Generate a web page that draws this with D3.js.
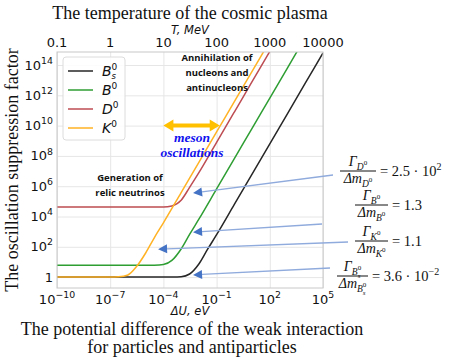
<!DOCTYPE html>
<html>
<head>
<meta charset="utf-8">
<script src="https://cdn.jsdelivr.net/npm/d3@7"></script>
<style>
body { margin: 0; background: #fff; }
svg { display: block; }
</style>
</head>
<body>
<svg id="chart" width="453" height="363"></svg>
<script>
const Width = 453;
const Height = 363;
const Plot = {left: 57, right: 323, top: 52, bottom: 288};
const Serif = "'Liberation Serif', 'Times New Roman', serif";
const Sans = "'DejaVu Sans', sans-serif";
const Note = "'Open Sans', sans-serif";

// curves: [ΔU in eV, suppression factor]
const bs0 = [[1e-10, 1], [1e-4, 1], [3e-4, 1.01], [1e-3, 1.06], [3e-3, 1.6], [1e-2, 7.3], [3e-2, 64], [1e-1, 630], [1, 6.3e4], [10, 6.3e6], [100, 6.3e8], [1e3, 6.3e10], [1e4, 6.3e12], [1e5, 6.3e14]];
const b0 = [[1e-10, 6], [1e-5, 6], [3e-5, 6.07], [1e-4, 6.7], [3e-4, 12.6], [1e-3, 72], [3e-3, 660], [1e-2, 6600], [1e-1, 6.6e5], [1, 6.6e7], [10, 6.6e9], [100, 6.6e11], [1e3, 6.6e13], [1e4, 6.6e15]];
const d0 = [[1e-10, 4.2e4], [1e-4, 4.28e4], [3e-4, 5e4], [1e-3, 1.2e5], [3e-3, 8.4e5], [1e-2, 7.9e6], [1e-1, 7.9e8], [1, 7.9e10], [10, 7.9e12], [100, 7.9e14]];
const k0 = [[1e-10, 1], [1e-7, 1.004], [3e-7, 1.04], [1e-6, 1.38], [3e-6, 4.8], [1e-5, 39], [3e-5, 380], [1e-4, 3800], [1e-3, 3.8e5], [1e-2, 3.8e7], [1e-1, 3.8e9], [1, 3.8e11], [10, 3.8e13], [100, 3.8e15]];

const seriesData = [bs0, b0, d0, k0];
const seriesBase = ["B", "B", "D", "K"];
const seriesSub = ["s", "", "", ""];
const seriesColors = ["#262626", "#2e9e33", "#bd4d52", "#ffb224"];

const bottomExps = [-10, -7, -4, -1, 2, 5];
const topTicks = [0.1, 1, 10, 100, 1000, 10000];
const leftExps = [0, 2, 4, 6, 8, 10, 12, 14];

// Γ/Δm ratios written at the right, top to bottom
const ratioMeson = ["D", "B", "K", "B"];
const ratioSub = ["", "", "", "s"];
const ratioValue = ["= 2.5 · 10", "= 1.3", "= 1.1", "= 3.6 · 10"];
const ratioExp = ["2", "", "", "−2"];

const svg = d3.select("#chart");

const x = d3.scaleLog().domain([1e-10, 1e5]).range([Plot.left, Plot.right]);
const xTop = d3.scaleLog().domain([0.1, 1e4]).range([Plot.left, Plot.right]);
const y = d3.scaleLog().domain([Math.pow(10, -0.72), Math.pow(10, 14.86)]).range([Plot.bottom, Plot.top]);

// lays out a run of text pieces side by side; stack puts a piece under/over the one before it
function rich(g, px, py, segs, anchor) {
	const grp = g.append("g");
	let cx = 0, lastX = 0;
	segs.forEach(s => {
		const t = grp.append("text")
			.attr("y", py + (s.dy || 0))
			.attr("font-size", s.size)
			.attr("font-family", s.family || Serif)
			.attr("font-style", s.italic ? "italic" : "normal")
			.attr("font-weight", s.bold ? "bold" : "normal")
			.attr("fill", s.fill || "#111")
			.text(s.text);
		const w = t.node().getComputedTextLength();
		if(s.stack) {
			t.attr("x", lastX);
			cx = Math.max(cx, lastX + w);
		} else {
			t.attr("x", cx);
			lastX = cx;
			cx += w;
		}
	});
	const shift = anchor === "middle" ? -cx / 2 : anchor === "end" ? -cx : 0;
	grp.attr("transform", `translate(${px + shift},0)`);
	return cx;
}

function pow10(e, size) {
	if(e === 0) return [{text: "1", size: size, family: Sans}];
	const exp = e < 0 ? "−" + (-e) : String(e);
	return [{text: "10", size: size, family: Sans}, {text: exp, size: size * 0.72, family: Sans, dy: -size * 0.45}];
}

// grid lines first so everything sits on top of them
const vgrid = svg.append("g").attr("transform", `translate(0,${Plot.bottom})`)
	.call(d3.axisBottom(x).tickValues(bottomExps.map(e => Math.pow(10, e))).tickSize(Plot.top - Plot.bottom).tickFormat(""));
const hgrid = svg.append("g").attr("transform", `translate(${Plot.left},0)`)
	.call(d3.axisLeft(y).tickValues(leftExps.map(e => Math.pow(10, e))).tickSize(Plot.left - Plot.right).tickFormat(""));
[vgrid, hgrid].forEach(g => {
	g.select(".domain").remove();
	g.selectAll("line").attr("stroke", "#e6e6e6").attr("stroke-width", 1);
});

svg.append("clipPath").attr("id", "plotclip").append("rect")
	.attr("x", Plot.left).attr("y", Plot.top).attr("width", Plot.right - Plot.left).attr("height", Plot.bottom - Plot.top);

const line = d3.line().x(d => x(d[0])).y(d => y(d[1])).curve(d3.curveMonotoneX);
svg.append("g").attr("clip-path", "url(#plotclip)")
	.selectAll("path").data(seriesData).enter().append("path")
	.attr("d", line)
	.attr("fill", "none")
	.attr("stroke", (d, i) => seriesColors[i])
	.attr("stroke-width", 1.5);

svg.append("rect")
	.attr("x", Plot.left).attr("y", Plot.top).attr("width", Plot.right - Plot.left).attr("height", Plot.bottom - Plot.top)
	.attr("fill", "none").attr("stroke", "#c8c8c8").attr("stroke-width", 1);

// tick labels
const labels = svg.append("g");
bottomExps.forEach(e => rich(labels, x(Math.pow(10, e)), 304, pow10(e, 13), "middle"));
leftExps.forEach(e => rich(labels, Plot.left - 4, y(Math.pow(10, e)) + 4.5, pow10(e, 13), "end"));
topTicks.forEach(t => rich(labels, xTop(t), 46.5, [{text: String(t), size: 13, family: Sans}], "middle"));

rich(labels, 190, 34, [{text: "T, MeV", size: 11.5, family: Sans, italic: true}], "middle");
rich(labels, 190, 315, [{text: "ΔU, eV", size: 11.5, family: Sans, italic: true}], "middle");
rich(labels, 190, 19, [{text: "The temperature of the cosmic plasma", size: 18}], "middle");
rich(labels, 192, 334.5, [{text: "The potential difference of the weak interaction", size: 18}], "middle");
rich(labels, 192, 353, [{text: "for particles and antiparticles", size: 18}], "middle");
svg.append("text")
	.attr("transform", `translate(18,${(Plot.top + Plot.bottom) / 2}) rotate(-90)`)
	.attr("text-anchor", "middle")
	.attr("font-family", Serif).attr("font-size", 18).attr("fill", "#111")
	.text("The oscillation suppression factor");

// legend
const legend = svg.append("g");
legend.append("rect").attr("x", 63).attr("y", 57).attr("width", 62).attr("height", 83).attr("rx", 3)
	.attr("fill", "#fff").attr("fill-opacity", 0.85).attr("stroke", "#dcdcdc");
seriesBase.forEach((b, i) => {
	const ly = 71 + i * 19;
	legend.append("line").attr("x1", 68).attr("x2", 93).attr("y1", ly).attr("y2", ly)
		.attr("stroke", seriesColors[i]).attr("stroke-width", 1.5);
	const segs = [{text: b, size: 14, family: Sans, italic: true}, {text: "0", size: 9, family: Sans, dy: -6}];
	if(seriesSub[i]) segs.push({text: seriesSub[i], size: 8.5, family: Sans, italic: true, dy: 2.5, stack: true});
	rich(legend, 102, ly + 5, segs, "start");
});

// notes inside the plot
const notes = svg.append("g");
["Annihilation of", "nucleons and", "antinucleons"].forEach((t, i) =>
	rich(notes, 217, 61 + i * 15, [{text: t, size: 9.5, family: Note, bold: true}], "middle"));
["Generation of", "relic neutrinos"].forEach((t, i) =>
	rich(notes, 130, 181 + i * 15, [{text: t, size: 9.5, family: Note, bold: true}], "middle"));
["meson", "oscillations"].forEach((t, i) =>
	rich(notes, 192, 142 + i * 15, [{text: t, size: 13.5, bold: true, italic: true, fill: "#1010ee"}], "middle"));

// double arrow over the meson oscillation window
const span = [1e-4, 1.5e-1];
const spanLevel = 1e10;
const ax1 = x(span[0]), ax2 = x(span[1]), ay = y(spanLevel);
notes.append("line").attr("x1", ax1 + 8).attr("x2", ax2 - 8).attr("y1", ay).attr("y2", ay)
	.attr("stroke", "#ffc000").attr("stroke-width", 4);
notes.append("path").attr("fill", "#ffc000")
	.attr("d", `M${ax1},${ay}L${ax1 + 10},${ay - 6}L${ax1 + 10},${ay + 6}Z M${ax2},${ay}L${ax2 - 10},${ay - 6}L${ax2 - 10},${ay + 6}Z`);

// pointers from the ratios to the curves
const pointerTo = [[4.7e-3, 3.5e5], [4.7e-3, 9.3e2], [5e-5, 70], [4.7e-3, 1.4]];
const pointerFrom = [[333, 175], [322, 224], [348, 242], [330, 268]];
pointerTo.forEach((p, i) => {
	const hx = x(p[0]), hy = y(p[1]);
	const [tx, ty] = pointerFrom[i];
	const len = Math.hypot(hx - tx, hy - ty);
	const ux = (hx - tx) / len, uy = (hy - ty) / len;
	const bx = hx - ux * 9, by = hy - uy * 9;
	notes.append("line").attr("x1", tx).attr("y1", ty).attr("x2", bx).attr("y2", by)
		.attr("stroke", "#8faadc").attr("stroke-width", 1.3);
	notes.append("path").attr("fill", "#4472c4")
		.attr("d", `M${hx},${hy}L${bx - uy * 4.5},${by + ux * 4.5}L${bx + uy * 4.5},${by - ux * 4.5}Z`);
});

// Γ/Δm fractions
const fracBar = [[340, 376, 171], [355, 388, 205], [355, 388, 241], [337, 368, 276]];
const fracs = svg.append("g");
ratioMeson.forEach((m, i) => {
	const [x0, x1, by] = fracBar[i];
	const cx = (x0 + x1) / 2;
	const sub = [{text: m, size: 9.5, italic: true, dy: 3.5}, {text: "0", size: 7, dy: -1.5}];
	if(ratioSub[i]) sub.push({text: ratioSub[i], size: 7, italic: true, dy: 6.5, stack: true});
	rich(fracs, cx, by - 5, [{text: "Γ", size: 14, italic: true}].concat(sub), "middle");
	rich(fracs, cx, by + 12, [{text: "Δm", size: 14, italic: true}].concat(sub), "middle");
	fracs.append("line").attr("x1", x0).attr("x2", x1).attr("y1", by).attr("y2", by)
		.attr("stroke", "#111").attr("stroke-width", 1);
	const rhs = [{text: ratioValue[i], size: 14.5}];
	if(ratioExp[i]) rhs.push({text: ratioExp[i], size: 10, dy: -6});
	rich(fracs, x1 + 4, by + 5, rhs, "start");
});
</script>
</body>
</html>
